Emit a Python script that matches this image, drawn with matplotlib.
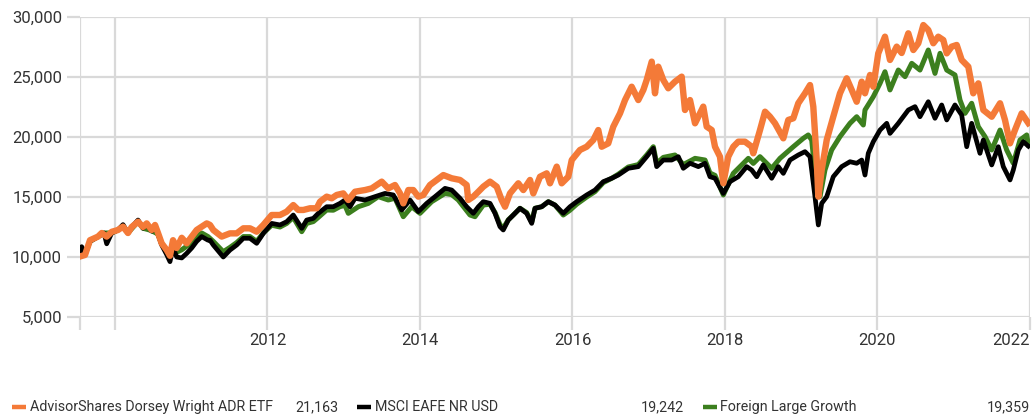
import matplotlib
matplotlib.use("Agg")
import matplotlib.pyplot as plt
from matplotlib.lines import Line2D
from matplotlib.ticker import FuncFormatter

# === Data (growth of 10,000), x in fractional years ===
adr_x = [2009.519, 2009.607, 2009.672, 2009.777, 2009.826, 2009.891, 2009.957, 2010.039, 2010.105, 2010.170,
         2010.219, 2010.302, 2010.367, 2010.416, 2010.481, 2010.525, 2010.564, 2010.612, 2010.678, 2010.721,
         2010.761, 2010.809, 2010.875, 2010.940, 2011.006, 2011.071, 2011.137, 2011.203, 2011.246, 2011.289,
         2011.399, 2011.508, 2011.596, 2011.683, 2011.770, 2011.858, 2011.945, 2012.055, 2012.164, 2012.252,
         2012.338, 2012.404, 2012.470, 2012.557, 2012.645, 2012.689, 2012.776, 2012.842, 2012.908, 2012.994,
         2013.060, 2013.148, 2013.279, 2013.367, 2013.498, 2013.584, 2013.672, 2013.738, 2013.781, 2013.847,
         2013.912, 2013.978, 2014.043, 2014.131, 2014.219, 2014.306, 2014.416, 2014.525, 2014.612, 2014.633,
         2014.699, 2014.765, 2014.830, 2014.918, 2015.006, 2015.071, 2015.115, 2015.180, 2015.289, 2015.355,
         2015.443, 2015.486, 2015.574, 2015.662, 2015.705, 2015.793, 2015.858, 2015.945, 2015.990, 2016.098,
         2016.186, 2016.273, 2016.338, 2016.383, 2016.469, 2016.535, 2016.623, 2016.689, 2016.776, 2016.863,
         2016.929, 2016.973, 2017.039, 2017.082, 2017.125, 2017.191, 2017.256, 2017.344, 2017.432, 2017.475,
         2017.541, 2017.607, 2017.715, 2017.760, 2017.826, 2017.869, 2017.934, 2017.978, 2018.043, 2018.109,
         2018.174, 2018.262, 2018.350, 2018.371, 2018.459, 2018.525, 2018.590, 2018.656, 2018.765, 2018.830,
         2018.896, 2018.961, 2019.049, 2019.115, 2019.158, 2019.203, 2019.224, 2019.268, 2019.334, 2019.420,
         2019.508, 2019.596, 2019.662, 2019.727, 2019.793, 2019.836, 2019.902, 2019.945, 2020.010, 2020.098,
         2020.164, 2020.252, 2020.317, 2020.404, 2020.470, 2020.535, 2020.601, 2020.666, 2020.732, 2020.797,
         2020.863, 2020.908, 2020.973, 2021.039, 2021.104, 2021.191, 2021.256, 2021.322, 2021.388, 2021.498,
         2021.607, 2021.672, 2021.738, 2021.803, 2021.891, 2021.978]
adr_y = [10000, 10170, 11400, 11700, 12000, 11700, 12100, 12250, 12530, 12000,
         12500, 12940, 12500, 12800, 12250, 12670, 12000, 11140, 10580, 10100,
         11400, 10750, 11600, 11140, 11700, 12250, 12530, 12800, 12670, 12250,
         11700, 11970, 11970, 12390, 12390, 12110, 12670, 13500, 13500, 13780,
         14330, 13920, 13920, 14060, 14060, 14610, 15030, 14890, 15170, 15300,
         14750, 15440, 15580, 15720, 16280, 15720, 16000, 15300, 14470, 15580,
         15580, 15030, 15170, 16000, 16420, 16830, 16560, 16420, 16000, 14750,
         15030, 15440, 15860, 16280, 15860, 14750, 14190, 15300, 16140, 15580,
         16420, 15300, 16690, 16970, 16140, 17530, 16140, 16690, 18080, 18920,
         19190, 19750, 20580, 19190, 19470, 20860, 21970, 23080, 24190, 23080,
         23920, 24750, 26280, 23640, 25860, 24750, 24060, 24610, 25030, 22250,
         23080, 21140, 22530, 20860, 20580, 19190, 18360, 16140, 18360, 19190,
         19610, 19610, 19190, 18640, 20580, 22110, 21690, 21140, 19890, 21420,
         21560, 22810, 23640, 24330, 22530, 18080, 15030, 17250, 19750, 21690,
         23640, 24890, 23920, 22940, 24610, 23640, 25170, 24190, 26970, 28360,
         26420, 27530, 27000, 28640, 27250, 27810, 29330, 28920, 27810, 28360,
         28080, 26970, 27530, 27670, 26420, 25860, 23640, 24470, 22250, 21690,
         22810, 21420, 19470, 20580, 21970, 21163]

eafe_x = [2009.519, 2009.563, 2009.607, 2009.672, 2009.777, 2009.856, 2009.891, 2009.957, 2010.039, 2010.105,
          2010.170, 2010.219, 2010.302, 2010.367, 2010.416, 2010.481, 2010.525, 2010.564, 2010.612, 2010.678,
          2010.721, 2010.761, 2010.809, 2010.875, 2010.940, 2011.006, 2011.071, 2011.137, 2011.220, 2011.246,
          2011.289, 2011.420, 2011.508, 2011.596, 2011.683, 2011.770, 2011.858, 2011.945, 2012.055, 2012.164,
          2012.252, 2012.338, 2012.449, 2012.514, 2012.601, 2012.666, 2012.776, 2012.863, 2012.951, 2013.016,
          2013.082, 2013.148, 2013.279, 2013.410, 2013.541, 2013.650, 2013.760, 2013.869, 2013.978, 2014.088,
          2014.197, 2014.328, 2014.416, 2014.525, 2014.612, 2014.699, 2014.765, 2014.830, 2014.918, 2014.984,
          2015.049, 2015.092, 2015.158, 2015.224, 2015.311, 2015.399, 2015.465, 2015.508, 2015.596, 2015.683,
          2015.770, 2015.879, 2015.967, 2016.055, 2016.186, 2016.295, 2016.404, 2016.514, 2016.601, 2016.732,
          2016.863, 2016.973, 2017.060, 2017.104, 2017.191, 2017.301, 2017.388, 2017.453, 2017.541, 2017.650,
          2017.738, 2017.803, 2017.869, 2017.978, 2018.066, 2018.174, 2018.285, 2018.350, 2018.416, 2018.502,
          2018.612, 2018.699, 2018.765, 2018.852, 2018.961, 2019.049, 2019.115, 2019.180, 2019.224, 2019.268,
          2019.334, 2019.420, 2019.530, 2019.639, 2019.727, 2019.793, 2019.836, 2019.879, 2019.945, 2020.033,
          2020.121, 2020.164, 2020.273, 2020.404, 2020.492, 2020.557, 2020.666, 2020.754, 2020.842, 2020.908,
          2021.016, 2021.104, 2021.170, 2021.235, 2021.344, 2021.388, 2021.498, 2021.584, 2021.650, 2021.738,
          2021.781, 2021.847, 2021.912, 2021.978]
eafe_y = [10000, 10860, 10300, 11300, 11700, 12000, 11100, 12000, 12250, 12700,
          12000, 12500, 13080, 12400, 12700, 12150, 12500, 11900, 11000, 10200,
          9610, 10800, 10000, 9920, 10300, 10750, 11300, 11700, 11400, 11400,
          11000, 10000, 10580, 11000, 11560, 11560, 11140, 11970, 12800, 12670,
          12940, 13500, 12390, 13080, 13220, 13640, 14190, 14190, 14470, 14750,
          14190, 14890, 14750, 15030, 15300, 15170, 13920, 14750, 13780, 14470,
          15030, 15720, 15580, 14890, 14190, 13640, 14190, 14610, 14470, 13640,
          12530, 12250, 13080, 13500, 14060, 13640, 12800, 14060, 14190, 14610,
          14330, 13640, 14190, 14610, 15170, 15580, 16280, 16560, 16830, 17390,
          17530, 18360, 19060, 17530, 18080, 18080, 18360, 17390, 17810, 17530,
          17810, 16690, 16560, 15300, 16280, 16690, 17530, 17250, 16690, 17670,
          16560, 17530, 16970, 18080, 18500, 18780, 18360, 15030, 12670, 14470,
          15030, 16690, 17530, 17940, 17810, 18080, 16830, 18640, 19610, 20580,
          21140, 20300, 21140, 22250, 22530, 21690, 22940, 21560, 22670, 21420,
          22670, 21830, 19190, 21140, 18640, 19750, 17670, 19190, 17530, 16420,
          17250, 18920, 19610, 19242]

flg_x = [2009.519, 2009.607, 2009.672, 2009.777, 2009.856, 2009.957, 2010.039, 2010.105, 2010.170, 2010.302,
         2010.367, 2010.481, 2010.564, 2010.612, 2010.678, 2010.721, 2010.761, 2010.809, 2010.875, 2010.940,
         2011.006, 2011.071, 2011.137, 2011.220, 2011.289, 2011.420, 2011.508, 2011.596, 2011.683, 2011.770,
         2011.858, 2011.945, 2012.055, 2012.164, 2012.252, 2012.338, 2012.449, 2012.514, 2012.601, 2012.666,
         2012.776, 2012.863, 2012.951, 2013.016, 2013.060, 2013.191, 2013.322, 2013.453, 2013.584, 2013.672,
         2013.781, 2013.891, 2014.000, 2014.153, 2014.328, 2014.416, 2014.502, 2014.656, 2014.721, 2014.830,
         2014.918, 2014.984, 2015.049, 2015.092, 2015.158, 2015.224, 2015.311, 2015.399, 2015.465, 2015.508,
         2015.596, 2015.683, 2015.770, 2015.879, 2015.967, 2016.055, 2016.186, 2016.295, 2016.404, 2016.514,
         2016.601, 2016.732, 2016.863, 2016.973, 2017.060, 2017.104, 2017.191, 2017.344, 2017.453, 2017.607,
         2017.738, 2017.803, 2017.869, 2017.978, 2018.109, 2018.306, 2018.371, 2018.459, 2018.612, 2018.721,
         2018.896, 2019.027, 2019.092, 2019.137, 2019.203, 2019.246, 2019.311, 2019.399, 2019.508, 2019.639,
         2019.727, 2019.814, 2019.836, 2019.945, 2020.033, 2020.098, 2020.164, 2020.273, 2020.361, 2020.449,
         2020.557, 2020.666, 2020.754, 2020.820, 2020.908, 2021.016, 2021.082, 2021.148, 2021.235, 2021.322,
         2021.410, 2021.498, 2021.607, 2021.694, 2021.781, 2021.869, 2021.957, 2021.978]
flg_y = [10000, 10200, 11300, 11700, 12000, 12000, 12250, 12600, 12000, 12950,
         12400, 12200, 11900, 11100, 10500, 10000, 11000, 10400, 10600, 10900,
         11200, 11700, 12000, 11700, 11300, 10440, 10800, 11200, 11700, 11700,
         11300, 12000, 12650, 12500, 12800, 13300, 12110, 12800, 12950, 13300,
         13920, 13900, 14200, 14300, 13640, 14190, 14470, 15030, 14750, 14900,
         13360, 14190, 13640, 14610, 15300, 15200, 14750, 13500, 13360, 14330,
         14400, 13700, 12700, 12400, 13100, 13500, 14060, 13700, 12900, 14060,
         14190, 14610, 14330, 13500, 13900, 14400, 15000, 15450, 16200, 16560,
         16900, 17500, 17700, 18500, 19190, 17800, 18300, 18500, 17700, 18220,
         18080, 17000, 16800, 15170, 16970, 18220, 17800, 18360, 17390, 18220,
         19190, 19890, 20170, 19750, 15580, 15030, 17250, 18920, 20030, 21140,
         21690, 21000, 22250, 23360, 24470, 25440, 23920, 25580, 25030, 26140,
         25580, 27250, 25300, 26970, 25580, 25170, 23080, 21970, 22810, 20860,
         20030, 18920, 20580, 18920, 17810, 19750, 20170, 19359]

series_names = ["AdvisorShares Dorsey Wright ADR ETF", "MSCI EAFE NR USD", "Foreign Large Growth"]
end_values = ["21,163", "19,242", "19,359"]
colors = ["#F47A38", "#000000", "#3C7F1E"]

y_ticks = [5000, 10000, 15000, 20000, 25000, 30000]
x_ticks = [2009.541, 2010, 2012, 2014, 2016, 2018, 2020, 2022]
x_labels = ["", "", "2012", "2014", "2016", "2018", "2020", "2022"]

# === Figure ===
W, H = 1035, 418
plt.rcParams["font.family"] = ["Roboto", "DejaVu Sans"]
fig = plt.figure(figsize=(W / 100, H / 100), dpi=100)
ax = fig.add_axes([80 / W, (H - 317) / H, 950 / W, 300 / H])

grid_c = "#d9d9d9"
ax.plot(flg_x, flg_y, color=colors[2], lw=3.6, solid_joinstyle="round", zorder=3)
ax.plot(eafe_x, eafe_y, color=colors[1], lw=3.4, solid_joinstyle="round", zorder=4)
ax.plot(adr_x, adr_y, color=colors[0], lw=4.6, solid_joinstyle="round", zorder=5)

ax.set_xlim(2009.541, 2022.0)
ax.set_ylim(5000, 30000)
ax.set_yticks(y_ticks)
ax.yaxis.set_major_formatter(FuncFormatter(lambda v, p: f"{int(v):,}"))
ax.set_xticks(x_ticks)
ax.set_xticklabels(x_labels)
ax.get_xticklabels()[-1].set_horizontalalignment("right")
ax.grid(True, color=grid_c, lw=1.6)
ax.set_axisbelow(True)
for s in ax.spines.values():
    s.set_visible(False)
ax.tick_params(axis="both", length=9.4, width=1.6, color=grid_c, labelcolor="#333333", labelsize=12)
ax.tick_params(axis="y", pad=3.5)
ax.tick_params(axis="x", pad=2)

# === Legend row ===
ly = (H - 407) / H
swatches = [(12, 26), (357, 371), (703, 717)]
text_x = [30, 375, 720]
value_x = [339, 684, 1030]
for i in range(3):
    fig.add_artist(Line2D([swatches[i][0] / W, swatches[i][1] / W], [ly, ly],
                          color=colors[i], lw=3.2, solid_capstyle="butt"))
    fig.text(text_x[i] / W, ly, series_names[i], ha="left", va="center", fontsize=10.3, color="#333333")
    fig.text(value_x[i] / W, ly, end_values[i], ha="right", va="center", fontsize=10.3, color="#333333")

fig.savefig("out.png", dpi=100)
